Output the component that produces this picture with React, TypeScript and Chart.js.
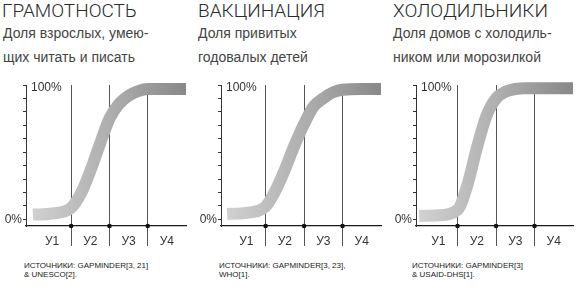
import React, { useEffect, useRef } from 'react';
import { Chart, registerables } from 'chart.js';

Chart.register(...registerables);

// ---- data ----
const titles = ['ГРАМОТНОСТЬ', 'ВАКЦИНАЦИЯ', 'ХОЛОДИЛЬНИКИ'];
const subtitles = [
  ['Доля взрослых, умею-', 'щих читать и писать'],
  ['Доля привитых', 'годовалых детей'],
  ['Доля домов с холодиль-', 'ником или морозилкой'],
];
const sources = [
  ['ИСТОЧНИКИ: GAPMINDER[3, 21]', '& UNESCO[2].'],
  ['ИСТОЧНИКИ: GAPMINDER[3, 23],', 'WHO[1].'],
  ['ИСТОЧНИКИ: GAPMINDER[3]', '& USAID-DHS[1].'],
];
const quarterLabels = ['У1', 'У2', 'У3', 'У4'];
const quarterDividers = [1, 2, 3];
const curveX = [0, 0.5, 1, 1.25, 1.5, 1.75, 2, 2.25, 2.5, 2.75, 3, 3.5, 4];
const literacy = [3.5, 4.3, 8.6, 19, 36, 56, 75, 86, 92, 95.5, 97, 97, 97];
const vaccination = [4, 4.8, 9.5, 21, 37, 55, 71, 84, 90, 94.5, 96.5, 97, 97];
const fridges = [2.5, 3, 7, 25, 53, 77, 90, 95, 97, 97.5, 97.5, 97.5, 97.5];
const seriesValues = [literacy, vaccination, fridges];
const yTickValues = [0, 10, 20, 30, 40, 50, 60, 70, 80, 90, 100];
const yLabelBottom = '0%';
const yLabelTop = '100%';

// ---- layout / style ----
const Y_MIN = -5;
const panelLayouts = [
  { left: 0, width: 190, xMin: -0.18, srcLeft: 24, titleLeft: 2 },
  { left: 195, width: 190, xMin: -0.16, srcLeft: 24, titleLeft: 3 },
  { left: 390, width: 187, xMin: -0.08, srcLeft: 22, titleLeft: 3 },
];
const FONT = "'Liberation Sans', Arial, Helvetica, sans-serif";
Chart.defaults.font.family = FONT;

const xTickValues = [0.5, 1, 1.5, 2, 2.5, 3, 3.5];

function Panel({ index }: { index: number }) {
  const ref = useRef<HTMLCanvasElement>(null);
  const layout = panelLayouts[index];

  useEffect(() => {
    const values = seriesValues[index];
    const gradient = (ctx: any) => {
      const chart = ctx.chart;
      const area = chart.chartArea;
      if (!area) return '#aaaaaa';
      const g = chart.ctx.createLinearGradient(area.left, 0, area.right, 0);
      g.addColorStop(0, '#d3d3d3');
      g.addColorStop(0.5, '#b0b0b0');
      g.addColorStop(1, '#888888');
      return g;
    };
    const chart = new Chart(ref.current!, {
      type: 'line',
      data: {
        datasets: [
          {
            data: quarterDividers.map((d) => ({ x: d, y: Y_MIN })),
            showLine: false,
            pointRadius: 2.3,
            pointBackgroundColor: '#111',
            pointBorderWidth: 0,
            clip: false,
            order: 0,
          } as any,
          {
            data: curveX.map((x, i) => ({ x, y: values[i] })),
            borderColor: gradient,
            borderWidth: 12,
            pointRadius: 0,
            cubicInterpolationMode: 'monotone',
            fill: false,
            clip: false,
            order: 1,
          } as any,
        ],
      },
      options: {
        animation: false,
        responsive: false,
        devicePixelRatio: 1,
        events: [],
        layout: { padding: { top: 15, left: 0, right: 0, bottom: 0 } },
        plugins: { legend: { display: false }, tooltip: { enabled: false } },
        scales: {
          x: {
            type: 'linear',
            position: 'bottom',
            min: layout.xMin,
            max: 4,
            z: 1,
            afterBuildTicks: (axis: any) => {
              axis.ticks = xTickValues.map((v) => ({ value: v }));
            },
            afterFit: (axis: any) => {
              axis.height = 24;
            },
            grid: {
              color: (c: any) =>
                c.tick && Number.isInteger(c.tick.value) ? '#555555' : 'rgba(0,0,0,0)',
              lineWidth: 1,
              tickLength: 20,
              drawOnChartArea: true,
              drawTicks: true,
            },
            border: { display: true, color: '#1a1a1a', width: 1.3 },
            ticks: {
              autoSkip: false,
              maxRotation: 0,
              padding: -12,
              color: '#333',
              font: { size: 12 },
              callback: (v: any) => {
                const n = Number(v);
                return Number.isInteger(n) ? '' : quarterLabels[Math.floor(n)];
              },
            },
          },
          y: {
            type: 'linear',
            position: 'left',
            weight: 1,
            min: Y_MIN,
            max: 100,
            afterBuildTicks: (axis: any) => {
              axis.ticks = yTickValues.map((v) => ({ value: v }));
            },
            afterFit: (axis: any) => {
              axis.width = 26;
            },
            grid: { drawOnChartArea: false, drawTicks: true, tickLength: 3, color: '#333' },
            border: { display: true, color: '#333', width: 1 },
            ticks: {
              autoSkip: false,
              padding: 1,
              color: '#333',
              font: { size: 12 },
              callback: (v: any) => (Number(v) === 0 ? yLabelBottom : ''),
            },
          },
          y100: {
            type: 'linear',
            position: 'left',
            weight: 0,
            min: Y_MIN,
            max: 100,
            afterBuildTicks: (axis: any) => {
              axis.ticks = [{ value: 100 }];
            },
            afterFit: (axis: any) => {
              axis.width = 0;
            },
            grid: { display: false },
            border: { display: false },
            ticks: {
              mirror: true,
              padding: 5,
              labelOffset: 3,
              color: '#333',
              font: { size: 12 },
              callback: () => yLabelTop,
            },
          },
        } as any,
      },
    });
    return () => chart.destroy();
  }, [index]);

  return (
    <div style={{ position: 'absolute', left: layout.left, top: 0, width: 195, height: 286 }}>
      <div
        style={{
          position: 'absolute',
          left: layout.titleLeft,
          top: 1,
          fontFamily: "Roboto, 'Liberation Sans', Arial, sans-serif",
          fontWeight: 300,
          fontSize: 19,
          lineHeight: '19px',
          color: '#2a2a2a',
          whiteSpace: 'nowrap',
        }}
      >
        {titles[index]}
      </div>
      <div
        style={{
          position: 'absolute',
          left: 3,
          top: 21.4,
          fontFamily: FONT,
          fontSize: 14,
          lineHeight: '24px',
          color: '#444',
          whiteSpace: 'nowrap',
        }}
      >
        {subtitles[index].map((s, i) => (
          <div key={i}>{s}</div>
        ))}
      </div>
      <canvas
        ref={ref}
        width={layout.width}
        height={180}
        style={{ position: 'absolute', left: 0, top: 70, width: layout.width, height: 180 }}
      />
      <div
        style={{
          position: 'absolute',
          left: layout.srcLeft,
          top: 260.6,
          fontFamily: FONT,
          fontSize: 8,
          lineHeight: '9.5px',
          color: '#1a1a1a',
          whiteSpace: 'nowrap',
        }}
      >
        {sources[index].map((s, i) => (
          <div key={i}>{s}</div>
        ))}
      </div>
    </div>
  );
}

export default function App() {
  return (
    <div
      style={{
        position: 'absolute',
        left: 0,
        top: 0,
        width: 583,
        height: 286,
        background: '#fff',
        overflow: 'hidden',
      }}
    >
      {[0, 1, 2].map((i) => (
        <Panel key={i} index={i} />
      ))}
    </div>
  );
}
